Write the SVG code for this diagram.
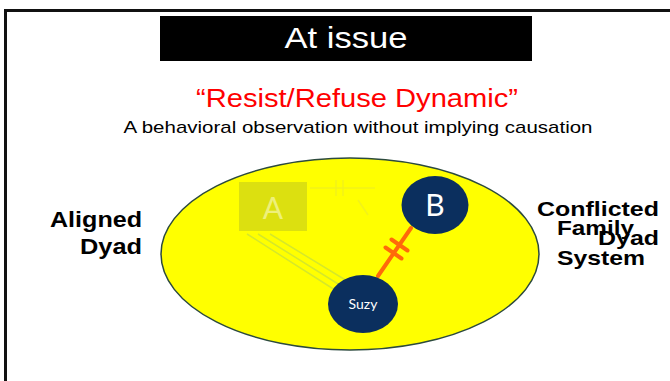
<svg xmlns="http://www.w3.org/2000/svg" width="670" height="381" viewBox="0 0 670 381">
<style>
.comic{font-family:"Comic Sans MS","Liberation Sans",sans-serif}
.gothic{font-family:"Century Gothic","Liberation Sans",sans-serif;font-weight:bold;font-size:22px;fill:#000;text-anchor:end}
.lbl{font-family:"Comic Sans MS","Liberation Sans",sans-serif;font-weight:bold;font-size:21px;fill:#000}
.node{fill:#0B2F5E}
.ntext{font-family:"Lato","Open Sans",sans-serif;fill:#fff;text-anchor:middle}
.faint{stroke:#D6E82A;stroke-width:1.5;fill:none}
.faint2{stroke:#F2F21A;stroke-width:1.5;fill:none}
.conf{stroke:#FF6A0A;stroke-width:4;stroke-linecap:round;fill:none}
</style>
<rect width="670" height="381" fill="#fff"/>
<path d="M5.5,381 V10.5 H670" fill="none" stroke="#111" stroke-width="3"/>
<g id="title">
<rect x="160" y="16" width="372" height="45" fill="#000"/>
<text class="comic" x="346" y="48" font-size="29" fill="#fff" text-anchor="middle" textLength="123" lengthAdjust="spacingAndGlyphs">At issue</text>
</g>
<g id="heading">
<text class="comic" x="357" y="107" font-size="25" fill="#F00" text-anchor="middle" textLength="322" lengthAdjust="spacingAndGlyphs">“Resist/Refuse Dynamic”</text>
<text class="comic" x="358" y="133" font-size="17" fill="#000" text-anchor="middle" textLength="469" lengthAdjust="spacingAndGlyphs">A behavioral observation without implying causation</text>
</g>
<g id="family-system">
<ellipse cx="350" cy="254" rx="189" ry="96" fill="#FFFF00" stroke="#2C4A3E" stroke-width="1.5"/>
</g>
<g id="connectors">
<path class="faint" d="M247,234 L335,290 M258,234 L343,287 M270,234 L352,284"/>
<path class="faint2" d="M310,188 H375 M336,180 V196 M343,180 V196 M358,200 L368,215"/>
<path class="conf" d="M411,228 L378,276"/>
<path class="conf" d="M385.5,247.5 L401.5,258.5 M391.5,239.5 L407.5,250.5"/>
</g>
<g id="node-a">
<rect x="239" y="182" width="68" height="49" fill="#DCE010"/>
<text class="ntext" x="273" y="219" font-size="30" fill="#F0F070" style="fill:#EEF07A">A</text>
</g>
<g id="node-b">
<ellipse class="node" cx="435" cy="205" rx="33.5" ry="29"/>
<text class="ntext" x="435" y="216" font-size="30">B</text>
</g>
<g id="node-suzy">
<ellipse class="node" cx="363" cy="304" rx="35" ry="29"/>
<text class="ntext" x="363" y="309" font-size="14">Suzy</text>
</g>
<g id="label-aligned">
<text class="gothic" x="142" y="227" textLength="92" lengthAdjust="spacingAndGlyphs">Aligned</text>
<text class="gothic" x="142" y="254" textLength="62" lengthAdjust="spacingAndGlyphs">Dyad</text>
</g>
<g id="label-conflicted">
<text class="lbl" x="537" y="216" textLength="122" lengthAdjust="spacingAndGlyphs">Conflicted</text>
<text class="lbl" x="598" y="245" textLength="61" lengthAdjust="spacingAndGlyphs">Dyad</text>
</g>
<g id="label-family">
<text class="lbl" x="557" y="235" textLength="77" lengthAdjust="spacingAndGlyphs">Family</text>
<text class="lbl" x="557" y="265" textLength="88" lengthAdjust="spacingAndGlyphs">System</text>
</g>
</svg>
